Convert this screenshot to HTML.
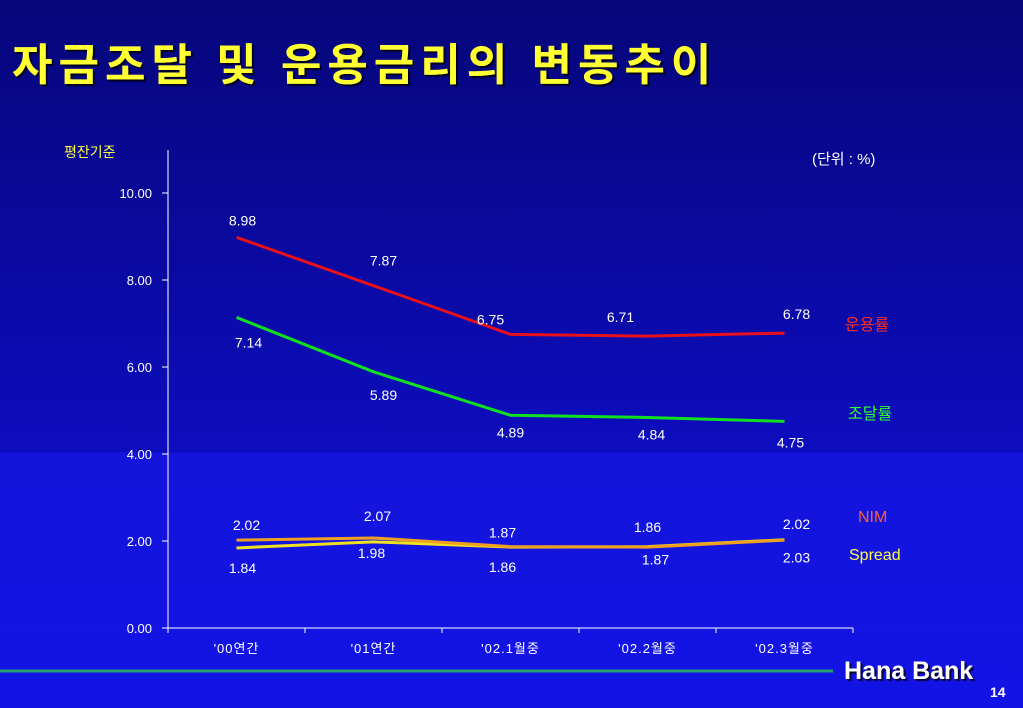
<!DOCTYPE html>
<html><head><meta charset="utf-8"><style>
body{margin:0;width:1023px;height:708px;overflow:hidden;background:linear-gradient(#06067a 0px,#0d0dbf 452px,#1414dc 453px,#1313e6 708px);font-family:"Liberation Sans","Noto Sans CJK KR",sans-serif;}
</style></head><body>
<svg width="1023" height="708" style="position:absolute;left:0;top:0">
<defs><filter id="sh"><feDropShadow dx="2" dy="2" stdDeviation="0.5" flood-color="#000" flood-opacity="0.8"/></filter></defs>
<text x="12" y="80" font-size="44" letter-spacing="6" fill="#ffff33" font-weight="bold" filter="url(#sh)" font-family="Liberation Sans,Noto Sans CJK KR,sans-serif">자금조달 및 운용금리의 변동추이</text>
<text x="64" y="157" font-size="14" fill="#ffff44">평잔기준</text>
<text x="812" y="164" font-size="15" fill="#fff">(단위 : %)</text>
<g id="axes"></g><g id="marks"></g>
<line x1="0" y1="671" x2="833" y2="671" stroke="#22a070" stroke-width="3"/>
<text x="844" y="679" font-size="25" font-weight="bold" fill="#fff" filter="url(#sh)">Hana Bank</text>
<text x="990" y="697" font-size="14" font-weight="bold" fill="#fff">14</text>
</svg>
<script>
const categories=["'00연간","'01연간","'02.1월중","'02.2월중","'02.3월중"];
const yTicks=[0,2,4,6,8,10];
const yTickLabels=["0.00","2.00","4.00","6.00","8.00","10.00"];
const unyong=[8.98,7.87,6.75,6.71,6.78];
const jodal=[7.14,5.89,4.89,4.84,4.75];
const nim=[2.02,2.07,1.87,1.86,2.02];
const spread=[1.84,1.98,1.86,1.87,2.03];
const NS="http://www.w3.org/2000/svg";
const x0=168,x1=853,yb=628,yt=193;
const xs=i=>x0+(x1-x0)/categories.length*(i+0.5);
const ys=v=>yb-(yb-yt)*v/10;
function mk(p,t,a){const e=document.createElementNS(NS,t);for(const k in a)e.setAttribute(k,a[k]);p.appendChild(e);return e;}
const ax=document.getElementById('axes'),mg=document.getElementById('marks');
let e=mk(ax,'line',{x1:x0,y1:150,x2:x0,y2:yb,stroke:'#fff','stroke-width':1});


e=mk(ax,'line',{x1:x0,y1:yb,x2:x1,y2:yb,stroke:'#fff','stroke-width':1});


yTicks.forEach((v,i)=>{mk(ax,'line',{x1:x0-6,y1:ys(v),x2:x0,y2:ys(v),stroke:'#fff'});
const t=mk(ax,'text',{x:x0-16,y:ys(v)+5,'font-size':13,fill:'#fff','text-anchor':'end'});t.textContent=yTickLabels[i];

});
for(let i=0;i<=categories.length;i++){const x=x0+(x1-x0)/categories.length*i;mk(ax,'line',{x1:x,y1:yb,x2:x,y2:yb+5,stroke:'#fff'});}
categories.forEach((c,i)=>{const t=mk(ax,'text',{x:xs(i),y:653,'font-size':13,fill:'#fff','text-anchor':'middle','letter-spacing':1});t.textContent=c;

});
function series(vals,color,name,offs){
const l=mk(mg,'polyline',{points:vals.map((v,i)=>xs(i)+','+ys(v)).join(' '),fill:'none',stroke:color,'stroke-width':3});


vals.forEach((v,i)=>{const t=mk(mg,'text',{x:xs(i)+(offs[i][0]||0),y:ys(v)+offs[i][1],'font-size':14,fill:'#fff','text-anchor':'middle'});t.textContent=v.toFixed(2);

});}
series(unyong,'#e8101a','unyong',[[6,-12],[10,-20],[-20,-10],[-27,-14],[12,-14]]);
series(jodal,'#10e020','jodal',[[12,30],[10,28],[0,22],[4,22],[6,26]]);
series(spread,'#f0e020','spread',[[6,25],[-2,16],[-8,25],[8,18],[12,23]]);
series(nim,'#f0a020','nim',[[10,-10],[4,-17],[-8,-9],[0,-15],[12,-11]]);
[["운용률",845,330,'#ff3020'],["조달률",848,419,'#30ff30'],["NIM",858,522,'#ff6030'],["Spread",849,560,'#ffff40']].forEach(a=>{const t=mk(mg,'text',{x:a[1],y:a[2],'font-size':16,fill:a[3]});t.textContent=a[0];

});
</script>
</body></html>
